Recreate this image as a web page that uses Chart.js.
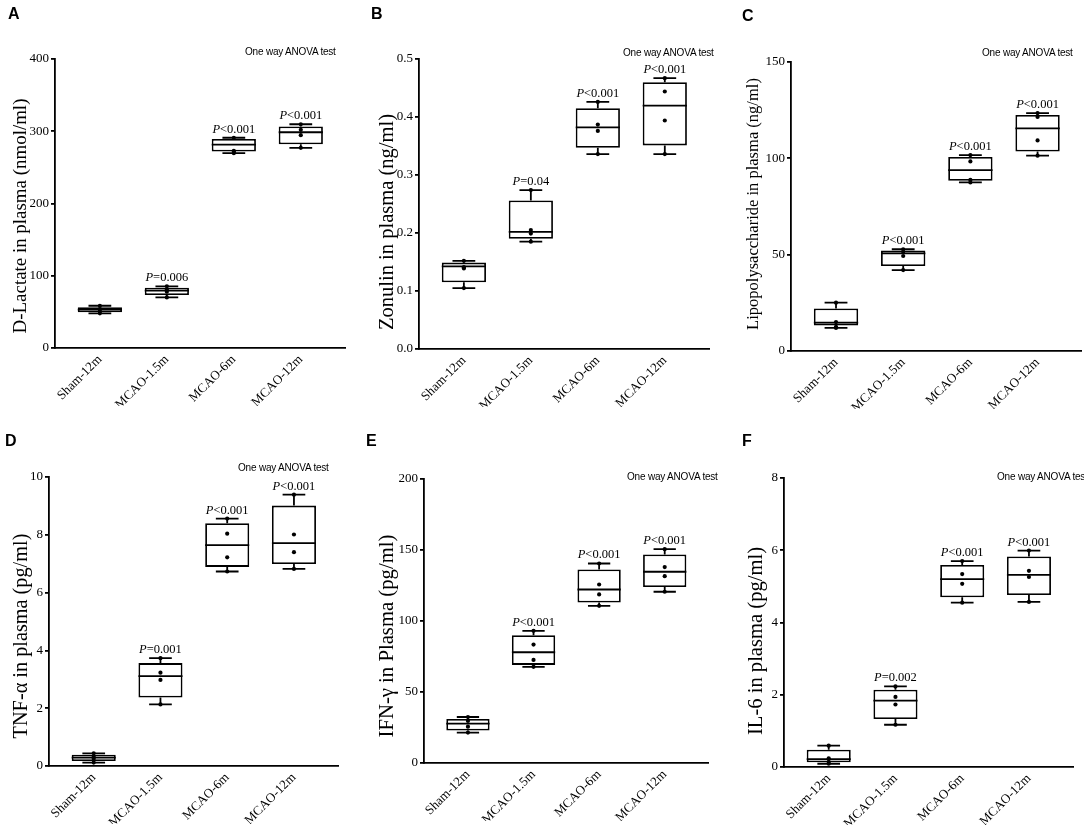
<!DOCTYPE html>
<html><head><meta charset="utf-8">
<script src="https://cdn.jsdelivr.net/npm/chart.js@4.4.1/dist/chart.umd.min.js"></script>
<style>
body{margin:0;background:#fff;width:1084px;height:831px;position:relative;overflow:hidden}
canvas{position:absolute}
.lbl{position:absolute;font-family:"Liberation Sans",Arial,sans-serif;font-weight:bold;font-size:16px;color:#000;line-height:1}
.note{position:absolute;font-family:"Liberation Sans",Arial,sans-serif;font-size:10px;letter-spacing:-0.2px;white-space:nowrap;transform:translateY(-50%);color:#000;line-height:1}
.ytitle{position:absolute;font-family:"Liberation Serif","Times New Roman",serif;white-space:nowrap;transform:translate(-50%,-50%) rotate(-90deg);color:#000;line-height:1}
</style></head><body>
<script>
const categories = ['Sham-12m', 'MCAO-1.5m', 'MCAO-6m', 'MCAO-12m'];

// A: D-Lactate (nmol/ml)
const lactateMin = [48, 70, 269.6, 277];
const lactateQ1 = [49.5, 73.3, 272, 282];
const lactateMedian = [53, 79.3, 281.6, 298.6];
const lactateQ3 = [56.5, 83.4, 289.4, 306.5];
const lactateMax = [58.5, 85.3, 291, 309.7];
const lactatePoints = [[48, 51, 54, 58.5], [70, 78, 81, 85.3], [269.6, 271.5, 273, 291], [277, 294.5, 302, 309.7]];
const lactateP = ['', 'P=0.006', 'P<0.001', 'P<0.001'];
const lactateTicks = [0, 100, 200, 300, 400];

// B: Zonulin (ng/ml)
const zonulinMin = [0.105, 0.185, 0.336, 0.336];
const zonulinQ1 = [0.115, 0.190, 0.347, 0.351];
const zonulinMedian = [0.1425, 0.202, 0.382, 0.4195];
const zonulinQ3 = [0.149, 0.256, 0.415, 0.460];
const zonulinMax = [0.152, 0.274, 0.426, 0.467];
const zonulinPoints = [[0.105, 0.139, 0.141, 0.152], [0.185, 0.199, 0.205, 0.274], [0.336, 0.376, 0.387, 0.426], [0.336, 0.394, 0.444, 0.467]];
const zonulinP = ['', 'P=0.04', 'P<0.001', 'P<0.001'];
const zonulinTicks = [0, 0.1, 0.2, 0.3, 0.4, 0.5];

// C: Lipopolysaccharide (ng/ml)
const lpsMin = [12, 42, 87.5, 101.4];
const lpsQ1 = [13.3, 44.1, 88.4, 103.5];
const lpsMedian = [14.7, 50.7, 93.9, 115.6];
const lpsQ3 = [22.1, 52.1, 100.7, 122.5];
const lpsMax = [25.1, 52.8, 101.7, 123.5];
const lpsPoints = [[12, 12.5, 15, 25.1], [42, 49.3, 51.5, 52.8], [87.5, 88.8, 98.4, 101.7], [101.4, 109.3, 121.5, 123.5]];
const lpsP = ['', 'P<0.001', 'P<0.001', 'P<0.001'];
const lpsTicks = [0, 50, 100, 150];

// D: TNF-α (pg/ml)
const tnfMin = [0.12, 2.13, 6.73, 6.82];
const tnfQ1 = [0.17, 2.37, 6.89, 6.99];
const tnfMedian = [0.29, 3.11, 7.64, 7.71];
const tnfQ3 = [0.39, 3.56, 8.40, 9.01];
const tnfMax = [0.44, 3.73, 8.56, 9.39];
const tnfPoints = [[0.12, 0.25, 0.32, 0.44], [2.13, 2.98, 3.23, 3.73], [6.73, 7.22, 8.04, 8.56], [6.82, 7.40, 8.01, 9.39]];
const tnfP = ['', 'P=0.001', 'P<0.001', 'P<0.001'];
const tnfTicks = [0, 2, 4, 6, 8, 10];

// E: IFN-γ (pg/ml)
const ifnMin = [21.4, 67.7, 110.7, 120.6];
const ifnQ1 = [22.8, 69.1, 113, 123.9];
const ifnMedian = [27.7, 78, 122.2, 134.7];
const ifnQ3 = [31, 90, 136.3, 146.9];
const ifnMax = [32.4, 93.1, 140.5, 150.6];
const ifnPoints = [[21.4, 25.6, 29.6, 32.4], [67.7, 72.6, 83.4, 93.1], [110.7, 118.7, 125.7, 140.5], [120.6, 131.6, 138, 150.6]];
const ifnP = ['', 'P<0.001', 'P<0.001', 'P<0.001'];
const ifnTicks = [0, 50, 100, 150, 200];

// F: IL-6 (pg/ml)
const il6Min = [0.09, 1.17, 4.55, 4.57];
const il6Q1 = [0.13, 1.33, 4.70, 4.76];
const il6Median = [0.22, 1.84, 5.20, 5.32];
const il6Q3 = [0.48, 2.14, 5.59, 5.83];
const il6Max = [0.59, 2.23, 5.70, 5.99];
const il6Points = [[0.09, 0.14, 0.24, 0.59], [1.17, 1.73, 1.94, 2.23], [4.55, 5.07, 5.34, 5.70], [4.57, 5.26, 5.43, 5.99]];
const il6P = ['', 'P=0.002', 'P<0.001', 'P<0.001'];
const il6Ticks = [0, 2, 4, 6, 8];

const panels = [
  {letter:'A', cell:[0,0,360,422], area:[55,59,345,348], letterPos:[8,6], note:[245,52], title:'D-Lactate in plasma (nmol/ml)', titlePos:[20,216], titleLen:235,
   mn:lactateMin, q1:lactateQ1, md:lactateMedian, q3:lactateQ3, mx:lactateMax, pts:lactatePoints, p:lactateP, ticks:lactateTicks, dec:0},
  {letter:'B', cell:[360,0,360,422], area:[419,59,709,349], letterPos:[371,6], note:[623,53], title:'Zonulin in plasma (ng/ml)', titlePos:[386,222], titleLen:216,
   mn:zonulinMin, q1:zonulinQ1, md:zonulinMedian, q3:zonulinQ3, mx:zonulinMax, pts:zonulinPoints, p:zonulinP, ticks:zonulinTicks, dec:1},
  {letter:'C', cell:[720,0,364,422], area:[791,62,1082,351], letterPos:[742,8], note:[982,53], title:'Lipopolysaccharide in plasma (ng/ml)', titlePos:[753,204], titleLen:252,
   mn:lpsMin, q1:lpsQ1, md:lpsMedian, q3:lpsQ3, mx:lpsMax, pts:lpsPoints, p:lpsP, ticks:lpsTicks, dec:0},
  {letter:'D', cell:[0,410,360,421], area:[49,477,338,766], letterPos:[5,433], note:[238,468], title:'TNF-α in plasma (pg/ml)', titlePos:[20,636], titleLen:205,
   mn:tnfMin, q1:tnfQ1, md:tnfMedian, q3:tnfQ3, mx:tnfMax, pts:tnfPoints, p:tnfP, ticks:tnfTicks, dec:0},
  {letter:'E', cell:[360,410,360,421], area:[424,479,708,763], letterPos:[366,433], note:[627,477], title:'IFN-γ in Plasma (pg/ml)', titlePos:[386,636], titleLen:203,
   mn:ifnMin, q1:ifnQ1, md:ifnMedian, q3:ifnQ3, mx:ifnMax, pts:ifnPoints, p:ifnP, ticks:ifnTicks, dec:0},
  {letter:'F', cell:[720,410,364,421], area:[784,478,1073,767], letterPos:[742,433], note:[997,477], title:'IL-6 in plasma (pg/ml)', titlePos:[755,641], titleLen:188,
   mn:il6Min, q1:il6Q1, md:il6Median, q3:il6Q3, mx:il6Max, pts:il6Points, p:il6P, ticks:il6Ticks, dec:0}
];

const SERIF = '"Liberation Serif", "Times New Roman", serif';
const Y_W = 40, X_H = 58, LW = 1.8;

function whiskerData(pn) {
  const d = [];
  const cap = 0.17, half = 0.33;
  categories.forEach((c, i) => {
    const x = i + 1;
    d.push({x: x - cap, y: pn.mx[i]}, {x: x + cap, y: pn.mx[i]}, {x: x, y: null},
           {x: x, y: pn.mx[i]}, {x: x, y: pn.q3[i]}, {x: x, y: null},
           {x: x, y: pn.q1[i]}, {x: x, y: pn.mn[i]}, {x: x, y: null},
           {x: x - cap, y: pn.mn[i]}, {x: x + cap, y: pn.mn[i]}, {x: x, y: null},
           {x: x - half, y: pn.md[i]}, {x: x + half, y: pn.md[i]}, {x: x, y: null});
  });
  return d;
}

function pPlugin(pn) {
  return {
    id: 'pLabels' + pn.letter,
    afterDatasetsDraw(chart) {
      const ctx = chart.ctx, xs = chart.scales.x, ys = chart.scales.y;
      ctx.save();
      ctx.fillStyle = '#000';
      ctx.textBaseline = 'alphabetic';
      ctx.textAlign = 'left';
      const fi = 'italic 12.5px ' + SERIF, fn = '12.5px ' + SERIF;
      pn.p.forEach((t, i) => {
        if (!t) return;
        const px = xs.getPixelForValue(i + 1);
        const py = ys.getPixelForValue(pn.mx[i]) - 5;
        const rest = t.slice(1);
        ctx.font = fi; const w1 = ctx.measureText('P').width;
        ctx.font = fn; const w2 = ctx.measureText(rest).width;
        const sx = px - (w1 + w2) / 2;
        ctx.font = fi; ctx.fillText('P', sx, py);
        ctx.font = fn; ctx.fillText(rest, sx + w1, py);
      });
      ctx.restore();
    }
  };
}

panels.forEach((pn, k) => {
  const [cx, cy, cw, ch] = pn.cell;
  const [L, T, R, B] = pn.area;
  const cv = document.createElement('canvas');
  cv.width = cw; cv.height = ch;
  cv.style.left = cx + 'px'; cv.style.top = cy + 'px';
  cv.style.width = cw + 'px'; cv.style.height = ch + 'px';
  document.body.appendChild(cv);

  const lt = document.createElement('div');
  lt.className = 'lbl'; lt.textContent = pn.letter;
  lt.style.left = pn.letterPos[0] + 'px'; lt.style.top = pn.letterPos[1] + 'px';
  document.body.appendChild(lt);

  const nt = document.createElement('div');
  nt.className = 'note'; nt.textContent = 'One way ANOVA test';
  nt.style.left = pn.note[0] + 'px'; nt.style.top = pn.note[1] + 'px';
  document.body.appendChild(nt);

  const tt = document.createElement('div');
  tt.className = 'ytitle'; tt.textContent = pn.title;
  tt.style.fontSize = '20px';
  tt.style.left = pn.titlePos[0] + 'px'; tt.style.top = pn.titlePos[1] + 'px';
  document.body.appendChild(tt);
  const w = tt.getBoundingClientRect().height;
  if (w > 0) tt.style.fontSize = (20 * pn.titleLen / w).toFixed(2) + 'px';

  const yMax = pn.ticks[pn.ticks.length - 1];
  const points = [];
  pn.pts.forEach((arr, i) => arr.forEach(v => points.push({x: i + 1, y: v})));

  new Chart(cv, {
    type: 'bar',
    data: {
      datasets: [
        {type: 'line', data: points, showLine: false, pointRadius: 2.1, pointBackgroundColor: '#000', pointBorderWidth: 0, pointHoverRadius: 0, order: 0},
        {type: 'line', data: whiskerData(pn), borderColor: '#000', borderWidth: LW, pointRadius: 0, pointHoverRadius: 0, spanGaps: false, tension: 0, order: 1},
        {type: 'bar', data: categories.map((c, i) => ({x: i + 1, y: [pn.q1[i], pn.q3[i]]})), backgroundColor: '#fff', borderColor: '#000', borderWidth: LW, borderSkipped: false, barPercentage: 0.66, categoryPercentage: 1, order: 2}
      ]
    },
    options: {
      responsive: false,
      animation: false,
      events: [],
      layout: {padding: {left: L - cx - Y_W, top: T - cy, right: cx + cw - R, bottom: cy + ch - B - X_H}},
      plugins: {legend: {display: false}, tooltip: {enabled: false}},
      scales: {
        x: {
          type: 'linear', min: 0.33, max: 4.66, offset: false,
          afterBuildTicks: s => { s.ticks = categories.map((c, i) => ({value: i + 1})); },
          afterFit: s => { s.height = X_H; },
          grid: {display: true, drawOnChartArea: false, drawTicks: false, offset: false},
          border: {display: true, color: '#000', width: LW},
          ticks: {autoSkip: false, minRotation: 45, maxRotation: 45, padding: 4, color: '#000', font: {family: SERIF, size: 13},
                  callback: v => categories[Math.round(v) - 1] || ''}
        },
        y: {
          type: 'linear', min: 0, max: yMax,
          afterBuildTicks: s => { s.ticks = pn.ticks.map(v => ({value: v})); },
          afterFit: s => { s.width = Y_W; },
          grid: {display: true, drawOnChartArea: false, drawTicks: true, tickLength: 4, color: '#000', lineWidth: LW},
          border: {display: true, color: '#000', width: LW},
          ticks: {padding: 2, color: '#000', font: {family: SERIF, size: 13},
                  callback: v => pn.dec ? Number(v).toFixed(pn.dec) : String(v)}
        }
      }
    },
    plugins: [pPlugin(pn)]
  });
});
</script>
</body></html>
